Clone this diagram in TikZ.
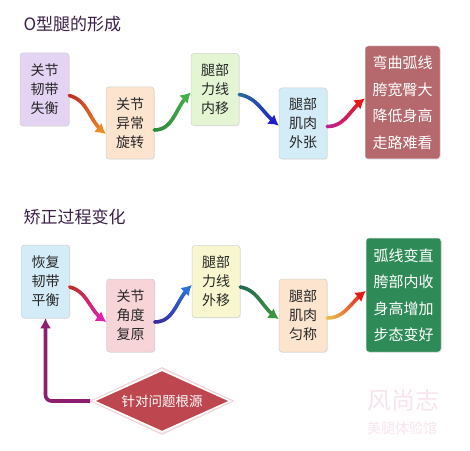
\documentclass[tikz,border=0pt]{standalone}
\usepackage{fontspec}
\setmainfont{Noto Sans CJK SC}
\usetikzlibrary{arrows.meta,shapes.geometric,shadows}
\definecolor{cLav}{HTML}{E4D4F4}
\definecolor{cPeach}{HTML}{FCE4CF}
\definecolor{cLGreen}{HTML}{E4F5D4}
\definecolor{cLBlue}{HTML}{D4ECF7}
\definecolor{cRose}{HTML}{B5696D}
\definecolor{cPink}{HTML}{F7D4D8}
\definecolor{cYellow}{HTML}{F8F6CF}
\definecolor{cGreen}{HTML}{2E8B57}
\definecolor{cDia}{HTML}{BE464E}
\definecolor{cPurple}{HTML}{8E1E72}
\definecolor{cTitle}{HTML}{3A1F4A}
\definecolor{aRed}{HTML}{C0302A}
\definecolor{aOrange}{HTML}{F08A20}
\definecolor{aGreenA}{HTML}{2E8A3A}
\definecolor{aGreenB}{HTML}{44B04A}
\definecolor{aTeal}{HTML}{2A6A9A}
\definecolor{aBlue}{HTML}{1E1ED0}
\definecolor{aMag}{HTML}{C02090}
\definecolor{aRedB}{HTML}{E81818}
\definecolor{aPinkM}{HTML}{E020B0}
\definecolor{aIndigo}{HTML}{3A2AA0}
\definecolor{aSky}{HTML}{2A70E0}
\definecolor{aGold}{HTML}{E8C050}
\definecolor{cWm}{HTML}{F8E4EE}
\newcommand{\garrow}[6]{%
  \foreach \i in {0,...,20} {\path #1 to[out=#5,in=#6] coordinate[pos=\i/20] (gp\i) #2;}
  \foreach \i [evaluate=\i as \j using int(\i+1), evaluate=\i as \p using int(100-\i*5)] in {0,...,17}
    {\draw[line width=3.6pt, line cap=round, color=#3!\p!#4] (gp\i) -- (gp\j);}
  \draw[line width=3.6pt, #4, -{Latex[length=10pt,width=12pt]}] (gp18) -- (gp20);
}
\tikzset{
  box/.style={rounded corners=3pt, draw=black!18, line width=0.5pt, align=center,
    font=\fontsize{14}{19}\selectfont, text=black!85, inner sep=0pt,
    drop shadow={opacity=0.12, shadow xshift=0.8pt, shadow yshift=-0.8pt}},
  bigbox/.style={rounded corners=3pt, draw=black!10, line width=0.5pt, align=center,
    font=\fontsize{15}{26.5}\selectfont, text=white, inner sep=0pt,
    minimum width=75pt, minimum height=113pt,
    drop shadow={opacity=0.12, shadow xshift=0.8pt, shadow yshift=-0.8pt}},
  title/.style={anchor=west, font=\fontsize{17}{20}\selectfont, text=cTitle},
  dia/.style={diamond, aspect=2.17, inner sep=0pt},
}
\begin{document}
\begin{tikzpicture}[x=1pt,y=1pt]
\useasboundingbox (0,0) rectangle (470,450);
\fill[white] (0,0) rectangle (470,450);

% watermark
\node[font=\fontsize{24}{26}\selectfont, text=cWm] (wm1) at (403,50) {风尚志};
\node[font=\fontsize{14}{16}\selectfont, text=cWm] (wm2) at (402,22) {美腿体验馆};

% top section
\node[title] (t1) at (20,426) {O型腿的形成};
\node[box, fill=cLav, minimum width=49pt, minimum height=73pt] (a1) at (44.5,360.5) {关节\\韧带\\失衡};
\node[box, fill=cPeach, minimum width=48pt, minimum height=72pt] (a2) at (130,327) {关节\\异常\\旋转};
\node[box, fill=cLGreen, minimum width=48pt, minimum height=72pt] (a3) at (215,360.5) {腿部\\力线\\内移};
\node[box, fill=cLBlue, minimum width=48pt, minimum height=71pt] (a4) at (303,326.5) {腿部\\肌肉\\外张};
\node[bigbox, fill=cRose] (a5) at (402.5,347.5) {弯曲弧线\\胯宽臀大\\降低身高\\走路难看};

\garrow{([yshift=-6pt]a1.east)}{([yshift=-11pt]a2.west)}{aRed}{aOrange}{-15}{145}
\garrow{([yshift=-7pt]a2.east)}{([yshift=-3pt]a3.west)}{aGreenA}{aGreenB}{0}{-140}
\garrow{([yshift=-5pt]a3.east)}{([yshift=-2pt]a4.west)}{aTeal}{aBlue}{-10}{145}
\garrow{([yshift=-3pt]a4.east)}{([yshift=4pt]a5.west)}{aMag}{aRedB}{0}{-145}

% bottom section
\node[title] (t2) at (20,233) {矫正过程变化};
\node[box, fill=cLBlue, minimum width=48pt, minimum height=73pt] (b1) at (45.5,168.5) {恢复\\韧带\\平衡};
\node[box, fill=cPink, minimum width=48pt, minimum height=73pt] (b2) at (130.5,134.5) {关节\\角度\\复原};
\node[box, fill=cYellow, minimum width=48pt, minimum height=72pt] (b3) at (216,168.5) {腿部\\力线\\外移};
\node[box, fill=cPeach, minimum width=48pt, minimum height=73pt] (b4) at (303,134.5) {腿部\\肌肉\\匀称};
\node[bigbox, fill=cGreen, minimum height=114pt] (b5) at (403.5,155) {弧线变直\\胯部内收\\身高增加\\步态变好};

\garrow{([yshift=-5.5pt]b1.east)}{([yshift=-6.5pt]b2.west)}{aRed}{aPinkM}{-15}{150}
\garrow{([yshift=-6.5pt]b2.east)}{([yshift=-3.5pt]b3.west)}{aIndigo}{aSky}{0}{-140}
\garrow{([yshift=-5.5pt]b3.east)}{([yshift=-3.5pt]b4.west)}{aTeal!40!aGreenA}{aGreenB!85!black}{-10}{150}
\garrow{([yshift=-2.5pt]b4.east)}{([yshift=4pt]b5.west)}{aGold}{aRedB}{0}{-145}

% diamond
\node[dia, minimum width=143pt, minimum height=67pt, fill=cDia!12, draw=cDia!30, line width=0.6pt] (dout) at (162,49) {};
\node[dia, minimum width=137pt, minimum height=62pt,
  fill=cDia, draw=white, line width=1.5pt, text=white, font=\fontsize{13.5}{15}\selectfont] (d) at (162,49) {针对问题根源};
\draw[cPurple, line width=3.6pt, rounded corners=6pt, -{Latex[length=10pt,width=11pt]}] (dout.west) -| (b1.south);
\end{tikzpicture}
\end{document}
